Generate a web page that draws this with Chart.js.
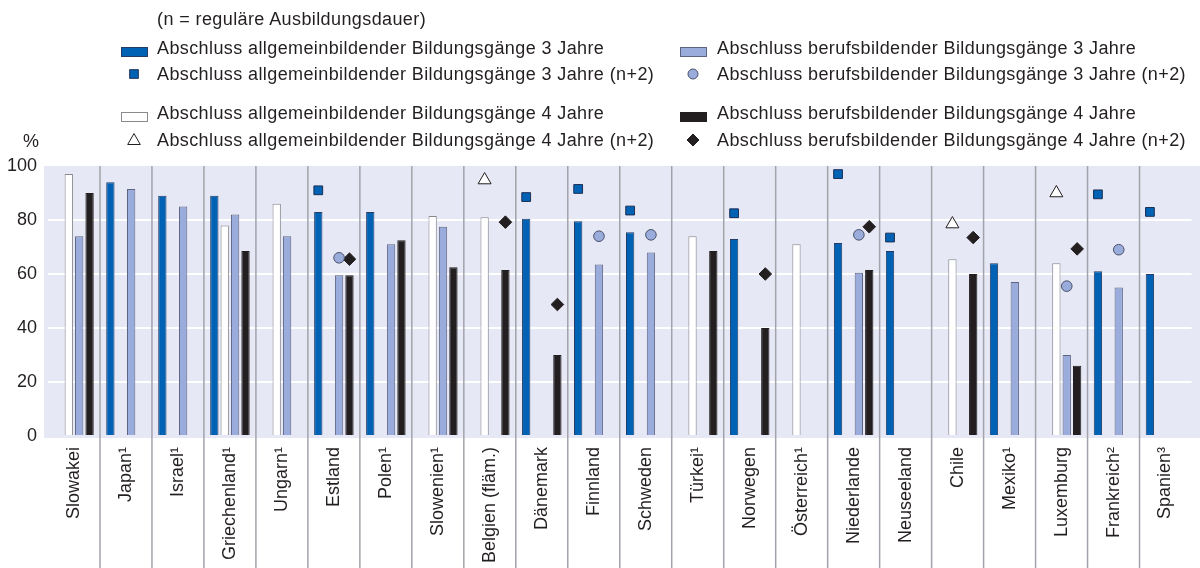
<!DOCTYPE html>
<html><head><meta charset="utf-8">
<script src="https://cdn.jsdelivr.net/npm/chart.js@4.4.0/dist/chart.umd.min.js"></script>
<style>
html,body{margin:0;padding:0;background:#fff;}
#wrap{position:relative;width:1200px;height:568px;overflow:hidden;font-family:"Liberation Sans",Arial,sans-serif;color:#231f20;}
canvas{position:absolute;left:0;top:0;}
.lg{position:absolute;font-size:18px;letter-spacing:0.4px;line-height:22px;white-space:nowrap;}
.ic{position:absolute;}
</style></head><body>
<div id="wrap"><canvas id="c" width="1200" height="568"></canvas><div id="legend"></div></div>
<script>
const categories = ['Slowakei','Japan\u00b9','Israel\u00b9','Griechenland\u00b9','Ungarn\u00b9','Estland','Polen\u00b9','Slowenien\u00b9','Belgien (fläm.)','Dänemark','Finnland','Schweden','Türkei\u00b9','Norwegen','Österreich\u00b9','Niederlande','Neuseeland','Chile','Mexiko\u00b9','Luxemburg','Frankreich\u00b2','Spanien\u00b3'];
const yTicks = [0,20,40,60,80,100];
const allg3   = [null,94,89,89,null,83,83,null,null,80.5,79.5,75.5,null,73,null,71.5,68.5,null,64,null,61,60];
const allg4   = [97,null,null,78,86,null,null,81.5,81,null,null,null,74,null,71,null,null,65.5,null,64,null,null];
const beruf3  = [74,91.5,85,82,74,59.5,71,77.5,null,null,63.5,68,null,null,null,60.5,null,null,57,30,55,null];
const beruf4  = [90,null,null,68.5,null,59.5,72.5,62.5,61.5,30,null,null,68.5,40,null,61.5,null,60,null,26,null,null];
const allg3n2 = [null,null,null,null,null,91,null,null,null,88.5,91.5,83.5,null,82.5,null,97,73.5,null,null,null,89.5,83];
const allg4n2 = [null,null,null,null,null,null,null,null,94.8,null,null,null,null,null,null,null,null,78.5,null,90,null,null];
const beruf3n2= [null,null,null,null,null,66,null,null,null,null,74,74.5,null,null,null,74.5,null,null,null,55.5,69,null];
const beruf4n2= [null,null,null,null,null,65.5,null,null,79.2,48.7,null,null,null,60,null,77.5,null,73.5,null,69.3,null,null];

const subtitle = '(n = reguläre Ausbildungsdauer)';
const labels = {
  allg3:'Abschluss allgemeinbildender Bildungsgänge 3 Jahre',
  allg3n2:'Abschluss allgemeinbildender Bildungsgänge 3 Jahre (n+2)',
  allg4:'Abschluss allgemeinbildender Bildungsgänge 4 Jahre',
  allg4n2:'Abschluss allgemeinbildender Bildungsgänge 4 Jahre (n+2)',
  beruf3:'Abschluss berufsbildender Bildungsgänge 3 Jahre',
  beruf3n2:'Abschluss berufsbildender Bildungsgänge 3 Jahre (n+2)',
  beruf4:'Abschluss berufsbildender Bildungsgänge 4 Jahre',
  beruf4n2:'Abschluss berufsbildender Bildungsgänge 4 Jahre (n+2)'
};

const C = {blue:'#0062b4', blueB:'#243c66', white:'#ffffff', whiteB:'#8a8a8e', light:'#9aacdb', lightB:'#5d6482', black:'#231f20'};
const FONT = '"Liberation Sans", Arial, sans-serif';

function bar(key, data, bg, bd){
  return {type:'bar', key, label:labels[key], data, backgroundColor:bg, borderColor:bd, borderWidth:1, order:2};
}
function mark(key, data, style, r, bg, bd, ref){
  return {type:'line', key, label:labels[key], data, showLine:false, pointStyle:style, pointRadius:r, pointHoverRadius:r,
          pointBackgroundColor:bg, pointBorderColor:bd, pointBorderWidth:1, backgroundColor:bg, borderColor:bd, order:0, barRef:ref};
}
const datasets = [
  bar('allg3', allg3, C.blue, C.blueB),
  bar('allg4', allg4, C.white, C.whiteB),
  bar('beruf3', beruf3, C.light, C.lightB),
  bar('beruf4', beruf4, C.black, C.black),
  mark('allg3n2', allg3n2, 'rect', 6.2, C.blue, '#1d2f55', 0),
  mark('allg4n2', allg4n2, 'triangle', 7.5, '#ffffff', '#231f20', 1),
  mark('beruf3n2', beruf3n2, 'circle', 5.3, C.light, '#4a5068', 2),
  mark('beruf4n2', beruf4n2, 'rectRot', 6.3, C.black, C.black, 3)
];

const bgPlugin = {
  id:'bgPlugin',
  beforeDraw(chart){
    const {ctx, chartArea:a} = chart;
    ctx.save(); ctx.fillStyle = '#e6e8f5';
    ctx.fillRect(a.left-4, a.top, chart.width-(a.left-4), a.bottom-a.top+2);
    ctx.restore();
  },
  beforeDatasetsDraw(chart){
    const {ctx, chartArea:a} = chart; const xs = chart.scales.x;
    ctx.save(); ctx.strokeStyle = '#a3a3ab'; ctx.lineWidth = 1.5;
    for(let i=1;i<categories.length;i++){
      const x = (xs.getPixelForTick(i-1)+xs.getPixelForTick(i))/2;
      ctx.beginPath(); ctx.moveTo(x, a.top); ctx.lineTo(x, chart.height); ctx.stroke();
    }
    ctx.restore();
  }
};
const alignMarkers = {
  id:'alignMarkers',
  afterDatasetsUpdate(chart){
    chart.data.datasets.forEach((ds,i)=>{
      if(ds.barRef===undefined) return;
      const m = chart.getDatasetMeta(i), b = chart.getDatasetMeta(ds.barRef);
      m.data.forEach((pt,k)=>{ if(b.data[k]) pt.x = b.data[k].x; });
    });
  }
};

const chart = new Chart(document.getElementById('c'), {
  data:{labels:categories, datasets},
  options:{
    responsive:false, animation:false, devicePixelRatio:1,
    layout:{padding:{top:166, right:2, left:0, bottom:0}},
    datasets:{bar:{categoryPercentage:0.8, barPercentage:0.8}},
    plugins:{legend:{display:false}, tooltip:{enabled:false}},
    scales:{
      x:{type:'category', offset:true, grid:{display:false}, border:{display:false},
         ticks:{autoSkip:false, maxRotation:90, minRotation:90, padding:3, color:'#231f20', font:{family:FONT, size:18}},
         afterFit(s){ s.height = 132; }},
      y:{min:0, max:100, afterBuildTicks(s){ s.ticks = yTicks.map(v=>({value:v})); },
         grid:{color:ctx=> (ctx.tick && (ctx.tick.value===0||ctx.tick.value===100)) ? 'rgba(0,0,0,0)' : '#ffffff', lineWidth:2, drawTicks:false},
         border:{display:false},
         ticks:{padding:11, color:'#231f20', font:{family:FONT, size:18}},
         afterFit(s){ s.width = 48; }}
    }
  },
  plugins:[bgPlugin, alignMarkers]
});

// HTML legend built from the chart datasets
(function(){
  const L = document.getElementById('legend');
  const rowsY = [48, 74, 113, 140];
  const cols = [{icon:121, text:157, pc:134},{icon:680, text:717, pc:693}];
  const layout = [['allg3',0,0],['beruf3',1,0],['allg3n2',0,1],['beruf3n2',1,1],['allg4',0,2],['beruf4',1,2],['allg4n2',0,3],['beruf4n2',1,3]];
  function add(html, x, y, cls){ const d=document.createElement('div'); d.className=cls; d.style.left=x+'px'; d.style.top=y+'px'; d.innerHTML=html; L.appendChild(d); return d; }
  const t = add('', 157, 19-11, 'lg'); t.textContent = subtitle;
  const pct = add('', 23, 141-11, 'lg'); pct.textContent = '%';
  layout.forEach(([key,c,r])=>{
    const ds = datasets.find(d=>d.key===key); const y = rowsY[r]; const col = cols[c];
    if(ds.type==='bar'){
      add(`<svg width="27" height="10"><rect x="0.5" y="0.5" width="26" height="9" fill="${ds.backgroundColor}" stroke="${ds.borderColor}" stroke-width="1"/></svg>`, col.icon, y-5, 'ic');
    } else {
      let shape='';
      const s=16, h=8;
      if(ds.pointStyle==='rect') shape=`<rect x="${h-4.3}" y="${h-4.3}" width="8.6" height="8.6" fill="${ds.pointBackgroundColor}" stroke="${ds.pointBorderColor}"/>`;
      if(ds.pointStyle==='circle') shape=`<circle cx="${h}" cy="${h}" r="5" fill="${ds.pointBackgroundColor}" stroke="${ds.pointBorderColor}"/>`;
      if(ds.pointStyle==='triangle') shape=`<polygon points="${h},${h-6.5} ${h+6.3},${h+4.5} ${h-6.3},${h+4.5}" fill="${ds.pointBackgroundColor}" stroke="${ds.pointBorderColor}"/>`;
      if(ds.pointStyle==='rectRot') shape=`<polygon points="${h},${h-6} ${h+6},${h} ${h},${h+6} ${h-6},${h}" fill="${ds.pointBackgroundColor}" stroke="${ds.pointBorderColor}"/>`;
      add(`<svg width="${s}" height="${s}">${shape}</svg>`, col.pc-h, y-h, 'ic');
    }
    const d = add('', col.text, y-11, 'lg'); d.textContent = ds.label;
  });
})();
</script>
</body></html>
